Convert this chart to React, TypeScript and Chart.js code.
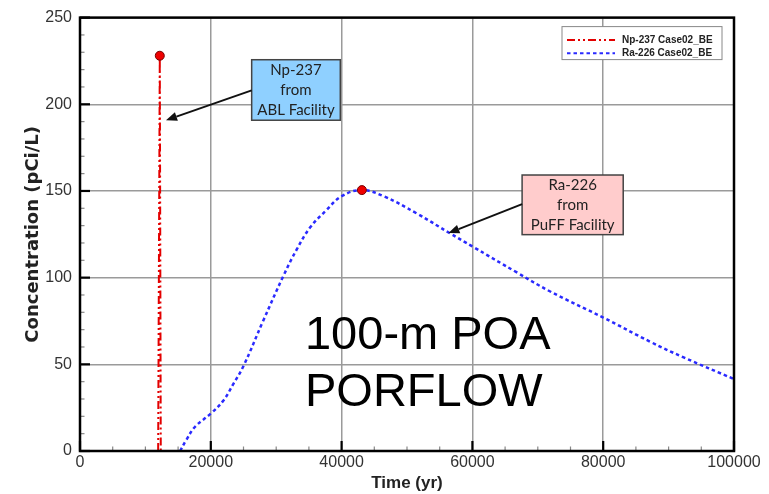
import React, { useEffect, useRef } from "react";
import { Chart, registerables } from "chart.js";

Chart.register(...registerables);

// ---------- data ----------
const npLabel = "Np-237 Case02_BE";
const npTime = [11950, 12200, 12350];
const npConc = [0, 228, 0];

const raLabel = "Ra-226 Case02_BE";
const raTime = [
  15300, 16200, 17600, 20000, 21900, 23500, 25000, 28000, 31100, 33100, 35200,
  37700, 40000, 43100, 46400, 51500, 56600, 60000, 66800, 71900, 80000, 87200,
  92300, 100000,
];
const raConc = [
  0, 6, 14, 21.6, 29, 39, 49, 75, 101, 116, 129, 139, 147, 150.5, 147, 137,
  125.5, 118, 103, 92, 77, 63, 54, 41.5,
];

const xMin = 0;
const xMax = 100000;
const xMajor = 20000;
const xMinor = 5000;
const yMin = 0;
const yMax = 250;
const yMajor = 50;
const yMinor = 10;

const xTitle = "Time (yr)";
const yTitle = "Concentration (pCi/L)";
const bigText = ["100-m POA", "PORFLOW"];

const npNote = ["Np-237", "from", "ABL Facility"];
const raNote = ["Ra-226", "from", "PuFF Facility"];

// annotation anchors in data units
const npNoteBox = { x0: 26250, x1: 39800, y0: 225.7, y1: 190.8 };
const npArrow = { fx: 26250, fy: 208, tx: 13150, ty: 190.8 };
const raNoteBox = { x0: 67600, x1: 83060, y0: 159.2, y1: 124.8 };
const raArrow = { fx: 67600, fy: 142.4, tx: 56330, ty: 125.7 };
const bigTextAnchor = { x: 34400, y: 59.1 };

const SANS = "'Liberation Sans', Arial, sans-serif";
const NP_COLOR = "#e30000";
const RA_COLOR = "#2a2aff";
const NP_DASH = [8, 3, 2, 3, 2, 3];
const RA_DASH = [3.5, 3];

function argmax(a: number[]) {
  let k = 0;
  a.forEach((v, i) => {
    if (v > a[k]) k = i;
  });
  return k;
}

function drawArrow(ctx: CanvasRenderingContext2D, x1: number, y1: number, x2: number, y2: number) {
  const ang = Math.atan2(y2 - y1, x2 - x1);
  const head = 11;
  const half = 4.5;
  const bx = x2 - head * Math.cos(ang);
  const by = y2 - head * Math.sin(ang);
  ctx.save();
  ctx.strokeStyle = "#111";
  ctx.fillStyle = "#111";
  ctx.lineWidth = 2;
  ctx.setLineDash([]);
  ctx.beginPath();
  ctx.moveTo(x1, y1);
  ctx.lineTo(bx, by);
  ctx.stroke();
  ctx.beginPath();
  ctx.moveTo(x2, y2);
  ctx.lineTo(bx + half * Math.sin(ang), by - half * Math.cos(ang));
  ctx.lineTo(bx - half * Math.sin(ang), by + half * Math.cos(ang));
  ctx.closePath();
  ctx.fill();
  ctx.restore();
}

function drawNote(
  ctx: CanvasRenderingContext2D,
  x: any,
  y: any,
  box: { x0: number; x1: number; y0: number; y1: number },
  lines: string[],
  fill: string
) {
  const l = x.getPixelForValue(box.x0);
  const r = x.getPixelForValue(box.x1);
  const t = y.getPixelForValue(box.y0);
  const b = y.getPixelForValue(box.y1);
  ctx.save();
  ctx.fillStyle = fill;
  ctx.fillRect(l, t, r - l, b - t);
  ctx.strokeStyle = "#444";
  ctx.lineWidth = 1.5;
  ctx.setLineDash([]);
  ctx.strokeRect(l, t, r - l, b - t);
  ctx.fillStyle = "#222";
  ctx.font = "15px Lato, 'Open Sans', sans-serif";
  ctx.textAlign = "center";
  ctx.textBaseline = "middle";
  const cx = (l + r) / 2;
  const cy = (t + b) / 2;
  const step = 20;
  lines.forEach((s, i) => {
    ctx.fillText(s, cx, cy + (i - (lines.length - 1) / 2) * step);
  });
  ctx.restore();
}

const decorPlugin = {
  id: "decor",
  afterDatasetsDraw(chart: any) {
    const { ctx, chartArea: ca } = chart;
    const x = chart.scales.x;
    const y = chart.scales.y;
    ctx.save();
    ctx.setLineDash([]);
    // inward tick marks
    for (let v = x.min; v <= x.max + 1e-6; v += xMinor) {
      const px = x.getPixelForValue(v);
      const major = Math.abs(v % xMajor) < 1e-6;
      ctx.strokeStyle = major ? "#000" : "#888";
      ctx.lineWidth = major ? 2.2 : 1.2;
      ctx.beginPath();
      ctx.moveTo(px, ca.bottom);
      ctx.lineTo(px, ca.bottom - (major ? 10 : 4.5));
      ctx.stroke();
    }
    for (let v = y.min; v <= y.max + 1e-6; v += yMinor) {
      const py = y.getPixelForValue(v);
      const major = Math.abs(v % yMajor) < 1e-6;
      ctx.strokeStyle = major ? "#000" : "#888";
      ctx.lineWidth = major ? 2.2 : 1.2;
      ctx.beginPath();
      ctx.moveTo(ca.left, py);
      ctx.lineTo(ca.left + (major ? 10 : 4.5), py);
      ctx.stroke();
    }
    // frame
    ctx.strokeStyle = "#000";
    ctx.lineWidth = 2.5;
    ctx.strokeRect(ca.left, ca.top, ca.right - ca.left, ca.bottom - ca.top);

    // legend
    const lr = ca.right - 12;
    const lt = ca.top + 9;
    const lw = 160;
    const lh = 33;
    ctx.fillStyle = "#fff";
    ctx.fillRect(lr - lw, lt, lw, lh);
    ctx.strokeStyle = "#888";
    ctx.lineWidth = 1;
    ctx.strokeRect(lr - lw, lt, lw, lh);
    const ds = chart.data.datasets;
    ds.forEach((d: any, i: number) => {
      const ly = lt + 13.3 + i * 13.4;
      ctx.strokeStyle = d.borderColor;
      ctx.lineWidth = 2;
      ctx.setLineDash(d.borderDash || []);
      ctx.beginPath();
      ctx.moveTo(lr - lw + 5, ly);
      ctx.lineTo(lr - lw + 53, ly);
      ctx.stroke();
      ctx.setLineDash([]);
      ctx.fillStyle = "#222";
      ctx.font = "bold 10px " + SANS;
      ctx.textAlign = "left";
      ctx.textBaseline = "middle";
      ctx.fillText(d.label, lr - lw + 60, ly);
    });

    // notes with arrows
    drawNote(ctx, x, y, npNoteBox, npNote, "#8fd0ff");
    drawArrow(
      ctx,
      x.getPixelForValue(npArrow.fx),
      y.getPixelForValue(npArrow.fy),
      x.getPixelForValue(npArrow.tx),
      y.getPixelForValue(npArrow.ty)
    );
    drawNote(ctx, x, y, raNoteBox, raNote, "#ffcccc");
    drawArrow(
      ctx,
      x.getPixelForValue(raArrow.fx),
      y.getPixelForValue(raArrow.fy),
      x.getPixelForValue(raArrow.tx),
      y.getPixelForValue(raArrow.ty)
    );

    // big caption
    ctx.fillStyle = "#000";
    ctx.font = "47px " + SANS;
    ctx.textAlign = "left";
    ctx.textBaseline = "alphabetic";
    const bx = x.getPixelForValue(bigTextAnchor.x);
    const by = y.getPixelForValue(bigTextAnchor.y);
    bigText.forEach((s, i) => ctx.fillText(s, bx, by + i * 57));
    ctx.restore();
  },
};

export default function App() {
  const ref = useRef<HTMLCanvasElement | null>(null);
  useEffect(() => {
    if (!ref.current) return;
    const npPeak = argmax(npConc);
    const raPeak = argmax(raConc);
    const chart = new Chart(ref.current, {
      type: "line",
      data: {
        datasets: [
          {
            label: npLabel,
            data: npTime.map((t, i) => ({ x: t, y: npConc[i] })),
            borderColor: NP_COLOR,
            backgroundColor: NP_COLOR,
            borderWidth: 2,
            borderDash: NP_DASH,
            tension: 0,
            pointRadius: (c: any) => (c.dataIndex === npPeak ? 4.5 : 0),
            pointBackgroundColor: "#ee0000",
            pointBorderColor: "#700",
            pointBorderWidth: 1,
          },
          {
            label: raLabel,
            data: raTime.map((t, i) => ({ x: t, y: raConc[i] })),
            borderColor: RA_COLOR,
            backgroundColor: RA_COLOR,
            borderWidth: 2.5,
            borderDash: RA_DASH,
            tension: 0.4,
            pointRadius: (c: any) => (c.dataIndex === raPeak ? 4.5 : 0),
            pointBackgroundColor: "#ee0000",
            pointBorderColor: "#700",
            pointBorderWidth: 1,
          },
        ],
      } as any,
      options: {
        animation: false,
        responsive: false,
        devicePixelRatio: window.devicePixelRatio || 1,
        layout: { padding: { top: 15, right: 35, left: 0, bottom: 0 } },
        plugins: {
          legend: { display: false },
          tooltip: { enabled: false },
        },
        scales: {
          x: {
            type: "linear",
            min: xMin,
            max: xMax,
            afterFit: (s: any) => {
              s.height = 43;
            },
            ticks: {
              stepSize: xMajor,
              autoSkip: false,
              maxRotation: 0,
              padding: 2,
              color: "#333",
              font: { family: SANS, size: 16 },
              callback: (v: any) => String(v),
            },
            grid: { color: "#9a9a9a", lineWidth: 1.5, drawTicks: false },
            border: { display: false },
            title: {
              display: true,
              text: xTitle,
              color: "#222",
              font: { family: SANS, size: 17, weight: "bold" },
              padding: { top: 0, bottom: 0 },
            },
          },
          y: {
            type: "linear",
            min: yMin,
            max: yMax,
            afterFit: (s: any) => {
              s.width = 80;
            },
            ticks: {
              stepSize: yMajor,
              padding: 8,
              color: "#333",
              font: { family: SANS, size: 16 },
              callback: (v: any) => String(v),
            },
            grid: { color: "#9a9a9a", lineWidth: 1.5, drawTicks: false },
            border: { display: false },
            title: {
              display: true,
              text: yTitle,
              color: "#222",
              font: { family: "'DejaVu Sans', sans-serif", size: 18, weight: "bold" },
              padding: { top: 23, bottom: 0 },
            },
          },
        },
      } as any,
      plugins: [decorPlugin],
    });
    return () => chart.destroy();
  }, []);
  return (
    <div style={{ position: "fixed", left: 0, top: 0, width: 769, height: 494, background: "#fff" }}>
      <canvas ref={ref} width={769} height={494} style={{ width: 769, height: 494, display: "block" }} />
    </div>
  );
}
